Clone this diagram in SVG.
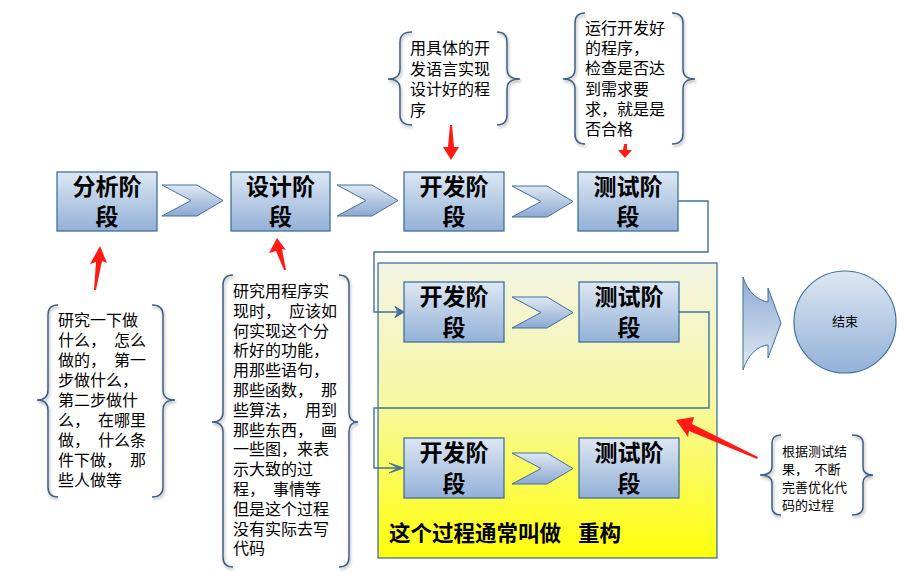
<svg xmlns="http://www.w3.org/2000/svg" width="920" height="584" viewBox="0 0 920 584">
<style>
.stage{fill:url(#gBox);stroke:#41719c;stroke-width:1.3}
.chev{fill:url(#gChev);stroke:#41719c;stroke-width:1}
.st{font-family:"Noto Sans CJK SC","Liberation Sans",sans-serif;font-size:23px;font-weight:bold;fill:#000;text-anchor:middle}
.note{font-family:"Noto Sans CJK SC","Liberation Sans",sans-serif;font-size:16px;fill:#000}
.brace{fill:none;stroke:#3f5f88;stroke-width:1.5;filter:url(#sh)}
.conn{fill:none;stroke:#41719c;stroke-width:1.4}
.red{fill:#ff1a14}
</style>
<defs>
<linearGradient id="gBox" x1="0" y1="0" x2="0" y2="1">
<stop offset="0" stop-color="#dde7f3"/><stop offset="1" stop-color="#93b1d7"/>
</linearGradient>
<linearGradient id="gChev" x1="0" y1="0" x2="0" y2="1">
<stop offset="0" stop-color="#dfe8f3"/><stop offset="1" stop-color="#8ca9d2"/>
</linearGradient>
<linearGradient id="gBig" x1="0" y1="0" x2="0" y2="1">
<stop offset="0" stop-color="#8eabd4"/><stop offset="1" stop-color="#e0e9f4"/>
</linearGradient>
<linearGradient id="gYel" x1="0" y1="0" x2="0" y2="1">
<stop offset="0" stop-color="#f1f4e4"/><stop offset="0.45" stop-color="#f7f7a6"/><stop offset="1" stop-color="#ffff0a"/>
</linearGradient>
<filter id="sh" x="-20%" y="-10%" width="140%" height="120%">
<feGaussianBlur in="SourceAlpha" stdDeviation="1.5"/><feOffset dx="1" dy="1.5" result="b"/>
<feComponentTransfer><feFuncA type="linear" slope="0.35"/></feComponentTransfer>
<feMerge><feMergeNode/><feMergeNode in="SourceGraphic"/></feMerge>
</filter>
<path id="chevron" d="M0,0 H35 L61,15.5 L35,31 H0 L29,15.5 Z"/>
</defs>

<rect width="920" height="584" fill="#fff"/>

<!-- refactor container -->
<g id="refactor">
<rect x="378" y="263" width="339" height="295" fill="url(#gYel)" stroke="#41719c" stroke-width="1.3"/>
<text x="389" y="541" font-family="'Noto Sans CJK SC','Liberation Sans',sans-serif" font-size="21.5" font-weight="bold" fill="#000">这个过程通常叫做 <tspan x="578">重构</tspan></text>
</g>

<!-- connectors -->
<g id="connectors">
<use href="#chevron" class="chev" x="162" y="185"/>
<use href="#chevron" class="chev" x="337" y="185"/>
<use href="#chevron" class="chev" x="512" y="186"/>
<use href="#chevron" class="chev" x="512" y="297"/>
<use href="#chevron" class="chev" x="512" y="453"/>
<path class="conn" d="M678,201 H708 V252 H374 V312 H398"/>
<path d="M404,312 L395,306.5 L398,312 L395,317.5 Z" fill="#41719c" stroke="#41719c" stroke-width="1"/>
<path class="conn" d="M679,312 H709 V408 H374 V468 H398"/>
<path d="M404,468 L389,463 L398,468 L389,473 Z" fill="#41719c" stroke="#41719c" stroke-width="0.8"/>
<path d="M743,277 C748,292 757,300 768,302 L768,288 L781,323 L768,358 L768,345 C757,346 748,355 743,370 Z" fill="url(#gBig)" stroke="#41719c" stroke-width="1"/>
<polygon class="red" points="100,246 107,263 102,261 96,290 94,290 96,262 90,264"/>
<polygon class="red" points="277,238 286,250 282,249 286,270 284,270 276,251 269,253"/>
<polygon class="red" points="450,125 452,125 454,147 459,147 451,160 443,147 448,147"/>
<polygon class="red" points="624,144 627,144 627,150 632,150 625,158 618,150 623,150"/>
<polygon class="red" points="676,420 694,417 692,424 758,457 757,459 689,431 688,437"/>
</g>

<g id="n-analysis">
<rect class="stage" x="57" y="172" width="100" height="59"/>
<text class="st" x="107" y="195">分析阶<tspan x="107" dy="30">段</tspan></text>
</g>
<g id="n-design">
<rect class="stage" x="231" y="172" width="99" height="59"/>
<text class="st" x="280.5" y="195">设计阶<tspan x="280.5" dy="30">段</tspan></text>
</g>
<g id="n-dev1">
<rect class="stage" x="404" y="172" width="100" height="59"/>
<text class="st" x="454" y="195">开发阶<tspan x="454" dy="30">段</tspan></text>
</g>
<g id="n-test1">
<rect class="stage" x="578" y="172" width="100" height="59"/>
<text class="st" x="628" y="195">测试阶<tspan x="628" dy="30">段</tspan></text>
</g>
<g id="n-dev2">
<rect class="stage" x="404" y="282" width="100" height="60"/>
<text class="st" x="454" y="305">开发阶<tspan x="454" dy="31">段</tspan></text>
</g>
<g id="n-test2">
<rect class="stage" x="579" y="282" width="100" height="60"/>
<text class="st" x="629" y="305">测试阶<tspan x="629" dy="31">段</tspan></text>
</g>
<g id="n-dev3">
<rect class="stage" x="404" y="438" width="100" height="60"/>
<text class="st" x="454" y="461">开发阶<tspan x="454" dy="31">段</tspan></text>
</g>
<g id="n-test3">
<rect class="stage" x="579" y="438" width="100" height="60"/>
<text class="st" x="629" y="461">测试阶<tspan x="629" dy="31">段</tspan></text>
</g>
<g id="n-end">
<circle cx="845" cy="322" r="51" fill="url(#gBox)" stroke="#41719c" stroke-width="1.2"/>
<text x="845" y="326" font-family="'Noto Sans CJK SC','Liberation Sans',sans-serif" font-size="13" fill="#000" text-anchor="middle">结束</text>
</g>

<g id="note-analysis">
<path class="brace" d="M58,305 Q48,305 48,315 V390 Q48,400 37,400 Q48,400 48,410 V487 Q48,497 58,497"/>
<path class="brace" d="M152,305 Q163,305 163,315 V390 Q163,400 175,400 Q163,400 163,410 V487 Q163,497 152,497"/>
<text class="note" x="58" y="326">
<tspan x="58">研究一下做</tspan>
<tspan x="58" dy="20">什么， </tspan><tspan x="114">怎么</tspan>
<tspan x="58" dy="20">做的， </tspan><tspan x="114">第一</tspan>
<tspan x="58" dy="20">步做什么，</tspan>
<tspan x="58" dy="20">第二步做什</tspan>
<tspan x="58" dy="20">么， </tspan><tspan x="98">在哪里</tspan>
<tspan x="58" dy="20">做， </tspan><tspan x="98">什么条</tspan>
<tspan x="58" dy="20">件下做， </tspan><tspan x="130">那</tspan>
<tspan x="58" dy="20">些人做等</tspan>
</text>
</g>

<g id="note-design">
<path class="brace" d="M233,275 Q223,275 223,285 V412 Q223,422 212,422 Q223,422 223,432 V557 Q223,567 233,567"/>
<path class="brace" d="M339,275 Q349,275 349,285 V412 Q349,422 358,422 Q349,422 349,432 V557 Q349,567 339,567"/>
<text class="note" x="233" y="297">
<tspan x="233">研究用程序实</tspan>
<tspan x="233" dy="19.8">现时， </tspan><tspan x="289">应该如</tspan>
<tspan x="233" dy="19.8">何实现这个分</tspan>
<tspan x="233" dy="19.8">析好的功能，</tspan>
<tspan x="233" dy="19.8">用那些语句，</tspan>
<tspan x="233" dy="19.8">那些函数， </tspan><tspan x="321">那</tspan>
<tspan x="233" dy="19.8">些算法， </tspan><tspan x="305">用到</tspan>
<tspan x="233" dy="19.8">那些东西， </tspan><tspan x="321">画</tspan>
<tspan x="233" dy="19.8">一些图，来表</tspan>
<tspan x="233" dy="19.8">示大致的过</tspan>
<tspan x="233" dy="19.8">程， </tspan><tspan x="273">事情等</tspan>
<tspan x="233" dy="19.8">但是这个过程</tspan>
<tspan x="233" dy="19.8">没有实际去写</tspan>
<tspan x="233" dy="19.8">代码</tspan>
</text>
</g>

<g id="note-dev">
<path class="brace" d="M412,32 Q400,32 400,42 V69 Q400,79 388,79 Q400,79 400,89 V115 Q400,125 412,125"/>
<path class="brace" d="M497,32 Q507,32 507,42 V69 Q507,79 520,79 Q507,79 507,89 V115 Q507,125 497,125"/>
<text class="note" x="410" y="54">
<tspan x="410">用具体的开</tspan>
<tspan x="410" dy="20.5">发语言实现</tspan>
<tspan x="410" dy="20.5">设计好的程</tspan>
<tspan x="410" dy="20.5">序</tspan>
</text>
</g>

<g id="note-test">
<path class="brace" d="M585,13 Q575,13 575,23 V69 Q575,79 563,79 Q575,79 575,89 V134 Q575,144 585,144"/>
<path class="brace" d="M672,13 Q683,13 683,23 V69 Q683,79 695,79 Q683,79 683,89 V134 Q683,144 672,144"/>
<text class="note" x="585" y="34">
<tspan x="585">运行开发好</tspan>
<tspan x="585" dy="20.2">的程序，</tspan>
<tspan x="585" dy="20.2">检查是否达</tspan>
<tspan x="585" dy="20.2">到需求要</tspan>
<tspan x="585" dy="20.2">求，就是是</tspan>
<tspan x="585" dy="20.2">否合格</tspan>
</text>
</g>

<g id="note-refactor">
<path class="brace" d="M781,435 Q772,435 772,443 V467 Q772,475 760,475 Q772,475 772,483 V507 Q772,515 781,515"/>
<path class="brace" d="M852,435 Q863,435 863,443 V467 Q863,475 873,475 Q863,475 863,483 V507 Q863,515 852,515"/>
<text class="note" x="782" y="456" font-size="13" style="font-size:13px">
<tspan x="782">根据测试结</tspan>
<tspan x="782" dy="18">果， </tspan><tspan x="814.5">不断</tspan>
<tspan x="782" dy="18">完善优化代</tspan>
<tspan x="782" dy="18">码的过程</tspan>
</text>
</g>
</svg>
